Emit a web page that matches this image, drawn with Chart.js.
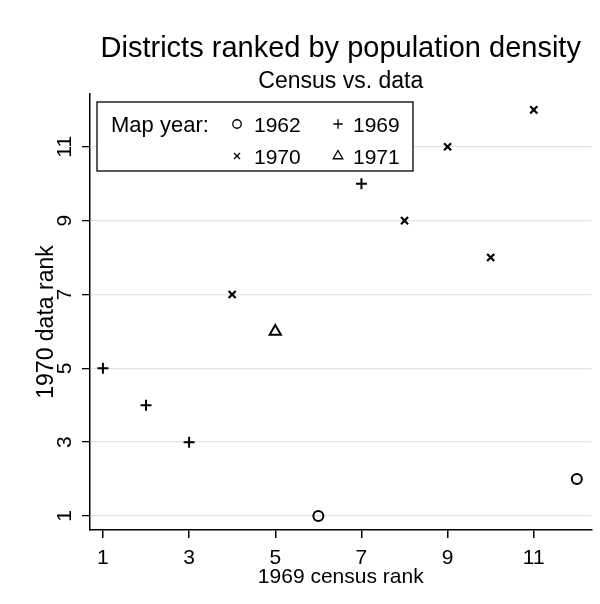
<!DOCTYPE html>
<html>
<head>
<meta charset="utf-8">
<title>Districts ranked by population density</title>
<script src="https://cdn.jsdelivr.net/npm/chart.js@4/dist/chart.umd.min.js"></script>
<style>
  html, body { margin: 0; padding: 0; background: #fff; }
  #wrap { width: 600px; height: 604px; position: relative; }
</style>
</head>
<body>
<div id="wrap"><canvas id="c" width="600" height="604"></canvas></div>
<script>
// Map years (one marker style per year)
const mapYears = ['1962', '1969', '1970', '1971'];

// 1969 census rank (x) and 1970 data rank (y), by map year
const census1962 = [6, 12];
const data1962   = [1, 2];
const census1969 = [1, 2, 3, 7];
const data1969   = [5, 4, 3, 10];
const census1970 = [4, 8, 9, 10, 11];
const data1970   = [7, 9, 11, 8, 12];
const census1971 = [5];
const data1971   = [6];

// Tick labels on both axes
const xTickValues = [1, 3, 5, 7, 9, 11];
const yTickValues = [1, 3, 5, 7, 9, 11];

const titleText = 'Districts ranked by population density';
const subtitleText = 'Census vs. data';
const xTitle = '1969 census rank';
const yTitle = '1970 data rank';
const legendHeading = 'Map year:';

const FONT = '"Liberation Sans", Arial, sans-serif';

function pairs(xs, ys) { return xs.map((x, i) => ({ x: x, y: ys[i] })); }

const markerStyles = [
  { pointStyle: 'circle',   radius: 5,   borderWidth: 2 },
  { pointStyle: 'cross',    radius: 5.5, borderWidth: 2 },
  { pointStyle: 'crossRot', radius: 5,   borderWidth: 2.2 },
  { pointStyle: 'triangle', radius: 6.5, borderWidth: 2 }
];
const seriesData = [
  pairs(census1962, data1962),
  pairs(census1969, data1969),
  pairs(census1970, data1970),
  pairs(census1971, data1971)
];

const datasets = mapYears.map((yr, i) => ({
  label: yr,
  data: seriesData[i],
  pointStyle: markerStyles[i].pointStyle,
  pointRadius: markerStyles[i].radius,
  pointHoverRadius: markerStyles[i].radius,
  pointBorderWidth: markerStyles[i].borderWidth,
  borderColor: '#000',
  backgroundColor: 'rgba(0,0,0,0)',
  showLine: false
}));

// Titles, axis titles and the boxed legend drawn on the canvas
const decorations = {
  id: 'decorations',
  afterDraw(chart) {
    const ctx = chart.ctx;
    const area = chart.chartArea;
    const cx = (area.left + area.right) / 2;
    ctx.save();
    ctx.fillStyle = '#000';
    ctx.textAlign = 'center';
    ctx.textBaseline = 'alphabetic';
    ctx.font = '29px ' + FONT;
    ctx.fillText(titleText, cx, 57);
    ctx.font = '23px ' + FONT;
    ctx.fillText(subtitleText, cx, 88);

    // axis titles
    ctx.font = '21px ' + FONT;
    ctx.fillText(xTitle, cx, 583);
    ctx.save();
    ctx.font = '23px ' + FONT;
    ctx.translate(53, 322);
    ctx.rotate(-Math.PI / 2);
    ctx.fillText(yTitle, 0, 0);
    ctx.restore();

    // legend box
    const bx = 97, by = 102, bw = 316, bh = 69;
    ctx.fillStyle = '#fff';
    ctx.fillRect(bx, by, bw, bh);
    ctx.strokeStyle = '#000';
    ctx.lineWidth = 1.3;
    ctx.strokeRect(bx, by, bw, bh);

    ctx.fillStyle = '#000';
    ctx.textAlign = 'left';
    ctx.textBaseline = 'alphabetic';
    ctx.font = '22px ' + FONT;
    ctx.fillText(legendHeading, 111, 132);

    const slots = [
      { mx: 237, tx: 254, y: 124 },
      { mx: 338, tx: 353, y: 124 },
      { mx: 237, tx: 254, y: 156 },
      { mx: 338, tx: 353, y: 156 }
    ];
    ctx.font = '21px ' + FONT;
    mapYears.forEach((yr, i) => {
      const s = slots[i];
      const m = markerStyles[i];
      ctx.strokeStyle = '#000';
      ctx.fillStyle = 'rgba(0,0,0,0)';
      Chart.helpers.drawPoint(ctx, {
        pointStyle: m.pointStyle,
        radius: m.radius * 0.85,
        borderWidth: m.borderWidth,
        rotation: 0
      }, s.mx, s.y);
      ctx.fillStyle = '#000';
      ctx.fillText(yr, s.tx, s.y + 8);
    });
    ctx.restore();
  }
};

new Chart(document.getElementById('c'), {
  type: 'scatter',
  data: { datasets: datasets },
  options: {
    responsive: false,
    animation: false,
    devicePixelRatio: 1,
    layout: { padding: { top: 94, right: 8, left: 0, bottom: 0 } },
    plugins: {
      legend: { display: false },
      title: { display: false },
      tooltip: { enabled: false }
    },
    scales: {
      x: {
        type: 'linear',
        min: 0.70,
        max: 12.34,
        afterBuildTicks(scale) { scale.ticks = xTickValues.map(v => ({ value: v })); },
        afterFit(scale) { scale.height = 74; },
        border: { display: true, color: '#000', width: 1.5 },
        grid: { drawOnChartArea: false, drawTicks: true, tickLength: 8, tickColor: '#000', lineWidth: 1.5 },
        ticks: { color: '#000', font: { family: FONT, size: 21 }, padding: 8, maxRotation: 0, autoSkip: false }
      },
      y: {
        type: 'linear',
        min: 0.62,
        max: 12.43,
        afterBuildTicks(scale) { scale.ticks = yTickValues.map(v => ({ value: v })); },
        afterFit(scale) { scale.width = 90; },
        border: { display: true, color: '#000', width: 1.5 },
        grid: { drawOnChartArea: true, color: '#e4e4e4', lineWidth: 1.3, drawTicks: true, tickLength: 8, tickColor: '#000' },
        ticks: { color: '#000', font: { family: FONT, size: 21 }, padding: 6, minRotation: 90, maxRotation: 90, autoSkip: false, crossAlign: 'center' }
      }
    }
  },
  plugins: [decorations]
});
</script>
</body>
</html>
